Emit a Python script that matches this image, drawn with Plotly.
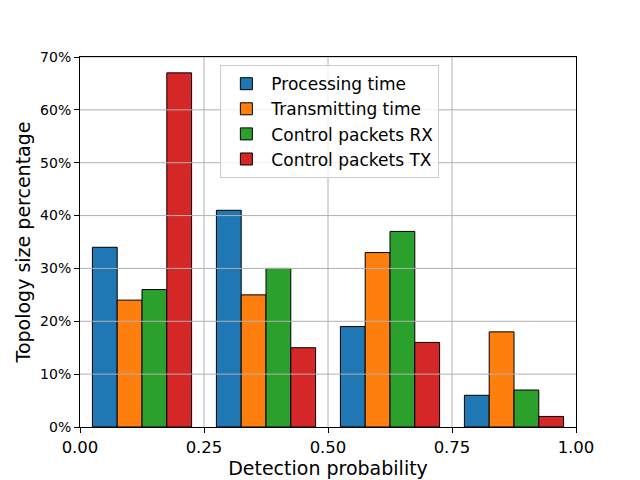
import plotly.graph_objects as go

bin_starts = [0.0, 0.25, 0.5, 0.75]
series_names = ["Processing time", "Transmitting time", "Control packets RX", "Control packets TX"]
processing = [34, 41, 19, 6]
transmitting = [24, 25, 33, 18]
ctrl_rx = [26, 30, 37, 7]
ctrl_tx = [67, 15, 16, 2]
colors = ["#1f77b4", "#ff7f0e", "#2ca02c", "#d62728"]
x_ticks = [0.0, 0.25, 0.5, 0.75, 1.0]
y_ticks = [0, 10, 20, 30, 40, 50, 60, 70]

bar_w = 0.05
fig = go.Figure()
for i, (name, vals) in enumerate(zip(series_names, [processing, transmitting, ctrl_rx, ctrl_tx])):
    fig.add_trace(go.Bar(
        x=[b + bar_w * (i + 1) for b in bin_starts], y=vals, width=bar_w, name=name,
        marker=dict(color=colors[i], line=dict(color="black", width=1)),
    ))

for t in x_ticks[1:-1]:
    fig.add_shape(type="line", xref="x", yref="paper", x0=t, x1=t, y0=0, y1=1,
                  line=dict(color="#b0b0b0", width=1), layer="above")
for t in y_ticks[1:]:
    fig.add_shape(type="line", xref="paper", yref="y", x0=0, x1=1, y0=t, y1=t,
                  line=dict(color="#b0b0b0", width=1), layer="above")

fig.update_layout(
    width=640, height=480, barmode="overlay",
    margin=dict(l=72, r=72, t=49, b=61, autoexpand=False),
    paper_bgcolor="white", plot_bgcolor="white",
    font=dict(family="DejaVu Sans", color="black"),
    legend=dict(x=0.283, y=0.978, xanchor="left", yanchor="top",
                bgcolor="rgba(255,255,255,0.8)", bordercolor="#cccccc", borderwidth=1,
                font=dict(size=17), traceorder="normal", itemwidth=40, tracegroupgap=0),
    xaxis=dict(range=[0, 1], tickvals=x_ticks, ticktext=["%.2f" % v for v in x_ticks],
               showgrid=False, showline=True, linecolor="black", mirror=True, automargin=False,
               ticks="outside", ticklen=5, tickcolor="black", tickfont=dict(size=16.5),
               title=dict(text="Detection probability", font=dict(size=19), standoff=5),
               zeroline=False),
    yaxis=dict(range=[0, 70], tickvals=y_ticks, ticktext=["%d%%" % v for v in y_ticks],
               showgrid=False, showline=True, linecolor="black", mirror=True, automargin=False,
               ticks="outside", ticklen=5, tickcolor="black", tickfont=dict(size=14),
               title=dict(text="Topology size percentage", font=dict(size=19), standoff=4),
               zeroline=False),
)
fig.write_html("out.html")
